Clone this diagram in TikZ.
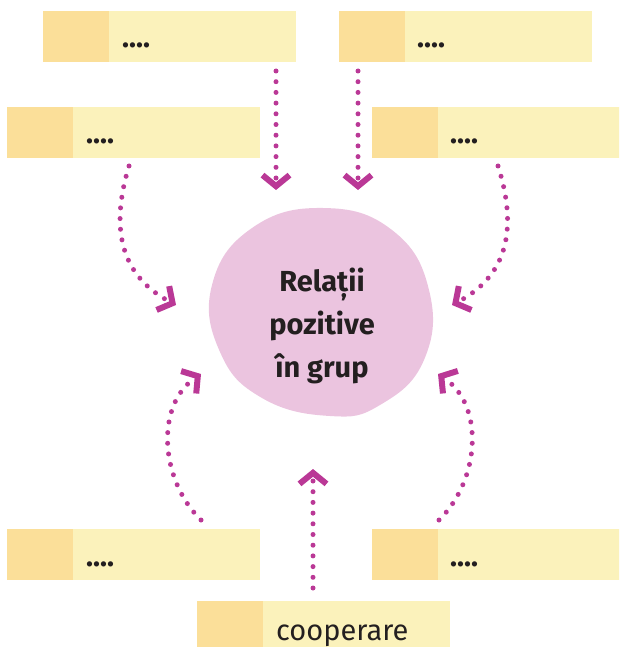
\documentclass[tikz,border=0pt]{standalone}
\usepackage{fontspec}
\setmainfont{Fira Sans}
\usetikzlibrary{arrows.meta}
\definecolor{boxlight}{RGB}{251,242,187}
\definecolor{boxdark}{RGB}{251,223,153}
\definecolor{blobfill}{RGB}{235,196,223}
\definecolor{arr}{RGB}{186,56,150}
\definecolor{txt}{RGB}{35,31,32}
\begin{document}
\begin{tikzpicture}[x=1pt,y=-1pt,
  box/.style={draw=none,fill=boxlight,minimum width=253pt,minimum height=51pt,inner sep=0pt,anchor=north west,
    path picture={\fill[boxdark] (path picture bounding box.north west) rectangle ([xshift=66pt]path picture bounding box.south west);}},
  dots/.style={font=\fontsize{29}{34}\selectfont\bfseries, text=txt, anchor=base west, inner sep=0pt},
  label/.style={font=\fontsize{29}{34}\selectfont, text=txt, anchor=base west, inner sep=0pt},
  conn/.style={draw=arr, line width=5pt, line cap=round, dash pattern=on 0pt off 10.7pt,
    -{Straight Barb[length=11pt,width=27pt,line width=6pt]}}]
\useasboundingbox (0,0) rectangle (619,647);
\begin{scope}
\clip (0,0) rectangle (619,647);
% boxes
\node[box] (b1) at (43,11) {};
\node[box] (b2) at (339,11) {};
\node[box] (b3) at (7,107) {};
\node[box] (b4) at (372,107) {};
\node[box] (b5) at (7,529) {};
\node[box] (b6) at (372,529) {};
\node[box] (b7) at (197,601) {};
\end{scope}
\node[dots] (t1) at (122,48) {....};
\node[dots] (t2) at (417,48) {....};
\node[dots] (t3) at (86,144) {....};
\node[dots] (t4) at (450,144) {....};
\node[dots] (t5) at (86,566) {....};
\node[dots] (t6) at (450,566) {....};
\node[label] (t7) at (276,640) {cooperare};
% blob
\fill[blobfill] plot[smooth cycle, tension=0.75] coordinates {(323,208) (392,230) (429,290) (424,360) (380,405) (330,416) (262,398) (220,352) (212,285) (252,228)};
\node[font=\fontsize{29}{43}\selectfont\bfseries, text=txt, align=center, inner sep=0pt] (c) at (322,326) {Relații\\pozitive\\în grup};
% connector coordinates
\coordinate (s1) at (276,71);  \coordinate (e1) at (276,190);
\coordinate (s2) at (358,71);  \coordinate (e2) at (358,190);
\coordinate (s3) at (129,166); \coordinate (e3) at (176,305);
\coordinate (s4) at (498,166); \coordinate (e4) at (452,305);
\coordinate (s5) at (201,520); \coordinate (e5) at (201,374);
\coordinate (s6) at (439,520); \coordinate (e6) at (438,374);
\coordinate (s7) at (313,588); \coordinate (e7) at (313,469);
\draw[conn] (s1) -- (e1);
\draw[conn] (s2) -- (e2);
\draw[conn] (s3) .. controls (108,235) and (125,278) .. (e3);
\draw[conn] (s4) .. controls (520,235) and (503,278) .. (e4);
\draw[conn] (s5) .. controls (160,480) and (155,405) .. (e5);
\draw[conn] (s6) .. controls (480,480) and (485,405) .. (e6);
\draw[conn] (s7) -- (e7);
\end{tikzpicture}
\end{document}
